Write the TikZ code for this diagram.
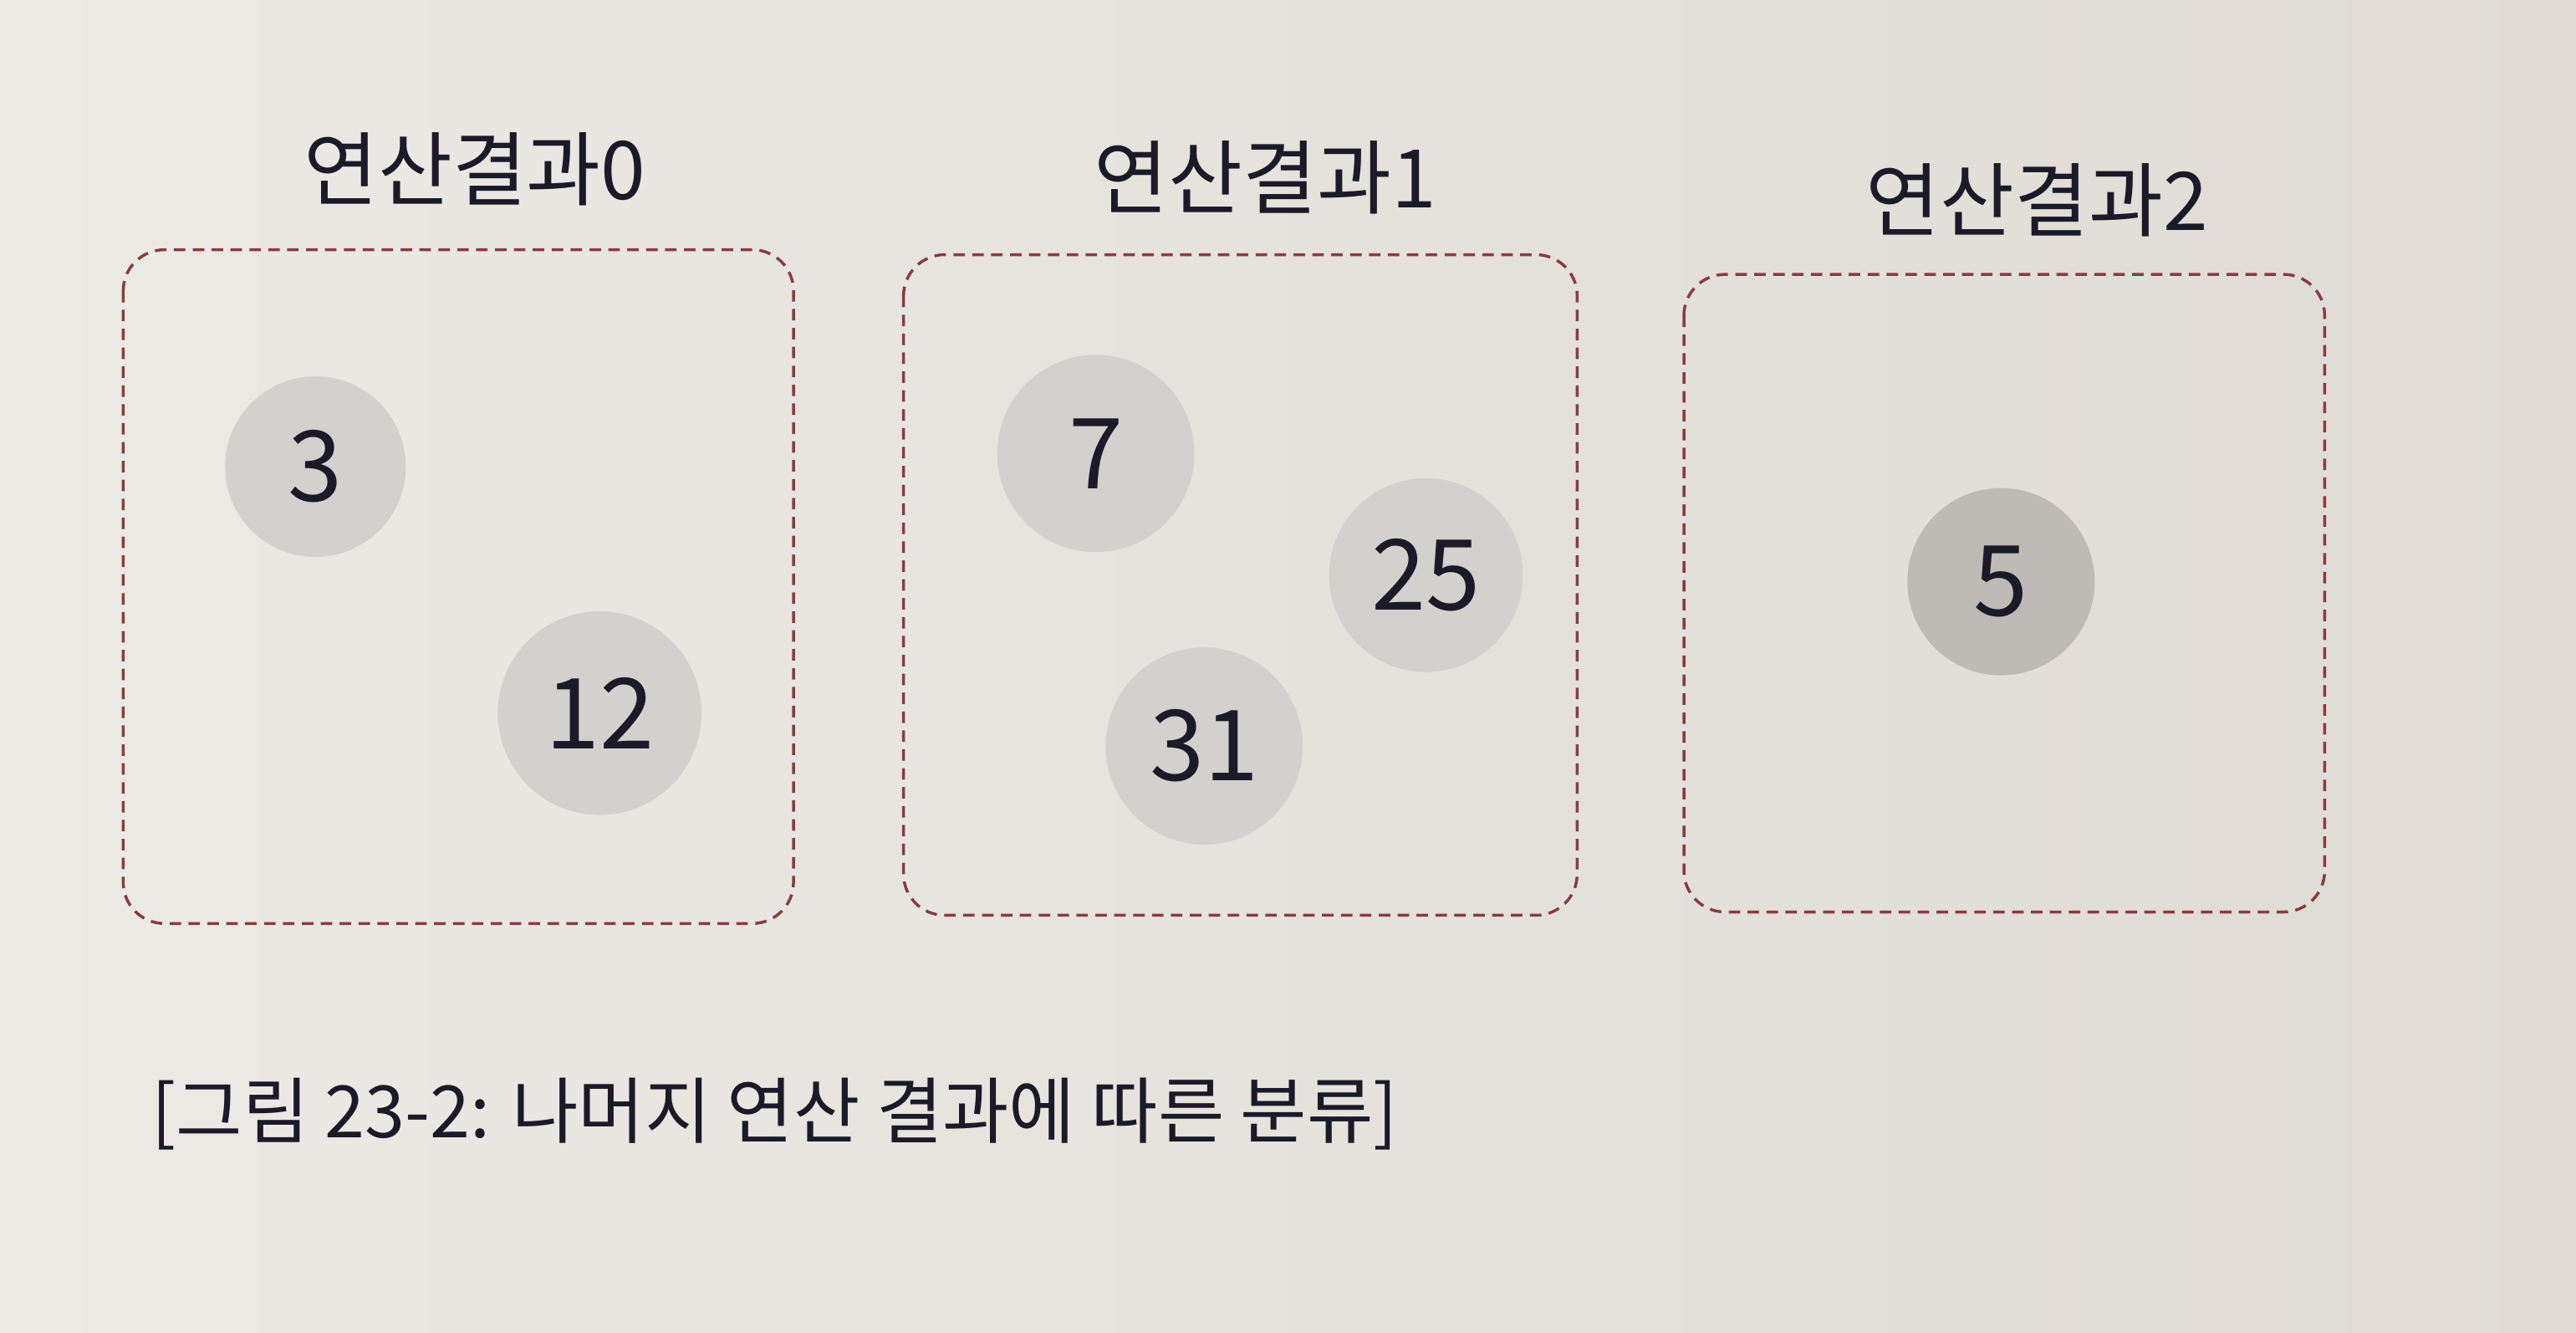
\documentclass[tikz,border=0pt]{standalone}
\usepackage{fontspec}
\setmainfont{Noto Sans CJK KR}
\usepackage{xcolor}
\usetikzlibrary{positioning}
\definecolor{paper}{HTML}{ECEAE5}
\definecolor{paperdark}{HTML}{DFDBD4}
\definecolor{boxline}{HTML}{8A3B40}
\definecolor{ink}{HTML}{1A1A28}
\definecolor{ballfill}{HTML}{D3D1CD}
\definecolor{ballfilldark}{HTML}{BEBBB7}

\begin{document}
\begin{tikzpicture}[
    x=0.1mm, y=-0.1mm,
    % Styles
    group/.style={% dashed box of one result
        draw=boxline,
        line width=0.5pt,
        dash pattern=on 0.7mm off 0.45mm,
        rounded corners=2.5mm,
        },
    grouplabel/.style={% title above each box
        text=ink,
        font=\fontsize{14}{17}\selectfont,
        },
    ball/.style={% gray circle with a number
        circle,
        fill=ballfill,
        text=ink,
        inner sep=0pt,
        font=\fontsize{17}{20}\selectfont,
        },
    caption/.style={% figure caption
        text=ink,
        anchor=west,
        font=\fontsize{12.5}{15}\selectfont,
        },
    ]

    % Paper background
    \shade[left color=paper, right color=paperdark] (0,0) rectangle (1568,811);
    \useasboundingbox (0,0) rectangle (1568,811);

    % Boxes
    \draw[group] (75,152) rectangle (483,562);
    \draw[group] (550,155) rectangle (960,557);
    \draw[group] (1025,167) rectangle (1415,555);

    % Box titles
    \node[grouplabel] (t0) at (289,103) {연산결과0};
    \node[grouplabel] (t1) at (770,108) {연산결과1};
    \node[grouplabel] (t2) at (1240,122) {연산결과2};

    % Numbers
    \node[ball, minimum size=11mm] (n3) at (192,284) {3};
    \node[ball, minimum size=12.4mm] (n12) at (365,434) {12};
    \node[ball, minimum size=12mm] (n7) at (667,276) {7};
    \node[ball, minimum size=11.8mm] (n25) at (868,350) {25};
    \node[ball, minimum size=12mm] (n31) at (733,454) {31};
    \node[ball, fill=ballfilldark, minimum size=11.4mm] (n5) at (1218,354) {5};

    % Caption
    \node[caption] (cap) at (80,678) {[그림 23-2: 나머지 연산 결과에 따른 분류]};
\end{tikzpicture}
\end{document}
